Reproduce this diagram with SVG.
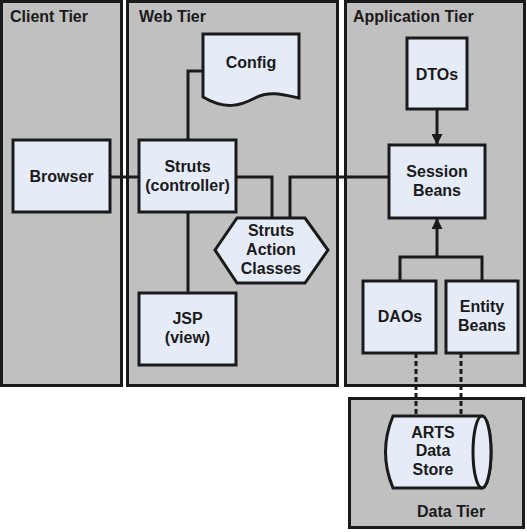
<svg xmlns="http://www.w3.org/2000/svg" width="527" height="532" viewBox="0 0 527 532">
<style>
.tier{fill:#c0c0c0;stroke:#1a1a1a;stroke-width:3}
.node{fill:#e6ecf7;stroke:#1a1a1a;stroke-width:3}
.t{font-family:"Liberation Sans",Arial,sans-serif;font-weight:bold;font-size:16px;fill:#1a1a1a}
.c{text-anchor:middle}
.ln{fill:none;stroke:#1a1a1a;stroke-width:3}
.dash{fill:none;stroke:#1a1a1a;stroke-width:3;stroke-dasharray:5,3}
</style>
<defs>
<marker id="ah" viewBox="0 0 10 10" refX="10" refY="5" markerWidth="11" markerHeight="11" markerUnits="userSpaceOnUse" orient="auto">
<path d="M0,0 L10,5 L0,10 z" fill="#1a1a1a"/>
</marker>
</defs>
<rect width="527" height="532" fill="#ffffff"/>
<g id="client-tier"><rect class="tier" x="1.5" y="1.5" width="120" height="384"/><text class="t" x="10" y="22">Client Tier</text></g>
<g id="web-tier"><rect class="tier" x="127.5" y="1.5" width="210" height="384"/><text class="t" x="139" y="22">Web Tier</text></g>
<g id="app-tier"><rect class="tier" x="345.5" y="1.5" width="179" height="384"/><text class="t" x="353" y="22">Application Tier</text></g>
<g id="data-tier"><rect class="tier" x="349.5" y="398.5" width="174" height="129"/><text class="t" x="417" y="517">Data Tier</text></g>
<g id="connectors">
<path class="ln" d="M110,177 H139"/>
<path class="ln" d="M203,71 H188 V140"/>
<path class="ln" d="M188,212 V293"/>
<path class="ln" d="M236,177 H272 V218"/>
<path class="ln" d="M290,218 V177 H389"/>
<path class="ln" d="M437,109 V145" marker-end="url(#ah)"/>
<path class="ln" d="M400,281 V257 H482 V281"/>
<path class="ln" d="M437,257 V218" marker-end="url(#ah)"/>
<path class="dash" d="M416,353 V416"/>
<path class="dash" d="M461,353 V416"/>
</g>
<g id="browser"><rect class="node" x="13" y="140" width="97" height="72"/><text class="t c" x="61.5" y="182">Browser</text></g>
<g id="struts"><rect class="node" x="139" y="140" width="97" height="72"/><text class="t c" x="187.5" y="172">Struts</text><text class="t c" x="187.5" y="191">(controller)</text></g>
<g id="config"><path class="node" d="M203,34 H299 V98 C285,95 270,90 255,98 C240,106 225,110 203,97 Z"/><text class="t c" x="251" y="68">Config</text></g>
<g id="jsp"><rect class="node" x="139" y="293" width="97" height="72"/><text class="t c" x="187.5" y="324">JSP</text><text class="t c" x="187.5" y="343">(view)</text></g>
<g id="action"><path class="node" d="M215,250 L237,218 H305 L328,250 L305,283 H237 Z"/><text class="t c" x="271" y="236">Struts</text><text class="t c" x="271" y="255">Action</text><text class="t c" x="271" y="274">Classes</text></g>
<g id="dtos"><rect class="node" x="407" y="38" width="60" height="71"/><text class="t c" x="437" y="80">DTOs</text></g>
<g id="session"><rect class="node" x="389" y="145" width="96" height="73"/><text class="t c" x="437" y="177">Session</text><text class="t c" x="437" y="196">Beans</text></g>
<g id="daos"><rect class="node" x="363" y="281" width="73" height="72"/><text class="t c" x="400" y="322">DAOs</text></g>
<g id="entity"><rect class="node" x="446" y="281" width="72" height="72"/><text class="t c" x="482" y="312">Entity</text><text class="t c" x="482" y="331">Beans</text></g>
<g id="datastore"><path class="node" d="M393,416 H482 A9,36 0 0 1 482,488 H393 Q378,452 393,416 Z"/><ellipse class="node" cx="482" cy="452" rx="9" ry="36"/><text class="t c" x="433" y="438">ARTS</text><text class="t c" x="433" y="456">Data</text><text class="t c" x="433" y="475">Store</text></g>
</svg>
